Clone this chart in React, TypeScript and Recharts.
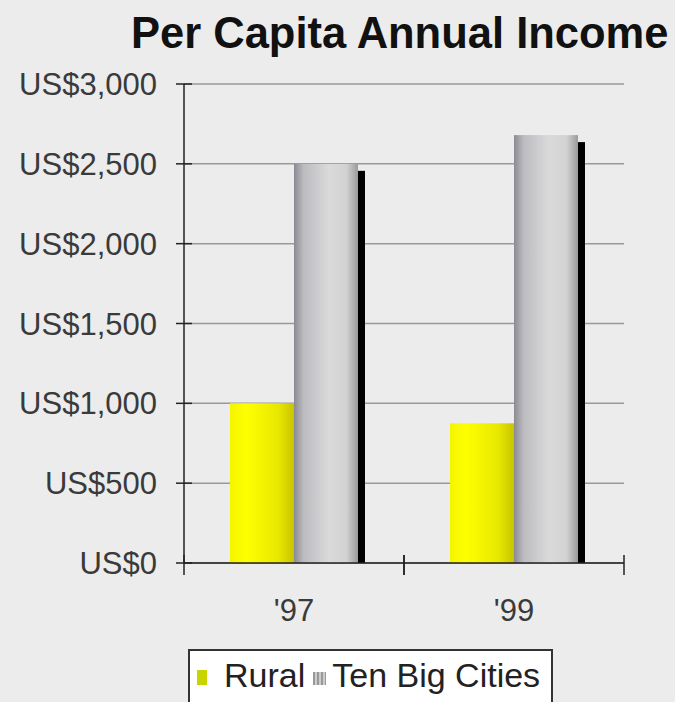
import React from "react";
import {
  BarChart,
  Bar,
  XAxis,
  YAxis,
  CartesianGrid,
  Legend,
} from "recharts";

const years = ["'97", "'99"];
const rural = [1000, 875];
const tenBigCities = [2500, 2680];
const yTicks = [0, 500, 1000, 1500, 2000, 2500, 3000];

const chartData = years.map((year, i) => ({
  year,
  rural: rural[i],
  cities: tenBigCities[i],
}));

const BG = "#ececec";
const FONT = "'Liberation Sans', Arial, sans-serif";
const TEXT = "#3a3a3a";
const HALF_BAND = 110;

const formatUsd = (v: number) => `US$${v.toLocaleString("en-US")}`;

function YTick(props: any) {
  const { x, y, payload } = props;
  const axisX = x + 27;
  return (
    <g>
      <line x1={axisX - 8} x2={axisX + 8} y1={y} y2={y} stroke="#222" strokeWidth={1.5} />
      <text
        x={x}
        y={y}
        dy="0.36em"
        textAnchor="end"
        fontSize={31}
        fontFamily={FONT}
        fill={TEXT}
      >
        {formatUsd(payload.value)}
      </text>
    </g>
  );
}

function XTick(props: any) {
  const { x, y, payload } = props;
  return (
    <g>
      <line x1={x - HALF_BAND} x2={x - HALF_BAND} y1={y - 10} y2={y + 10} stroke="#222" strokeWidth={1.5} />
      <line x1={x + HALF_BAND} x2={x + HALF_BAND} y1={y - 10} y2={y + 10} stroke="#222" strokeWidth={1.5} />
      <text
        x={x}
        y={y + 56}
        textAnchor="middle"
        fontSize={31}
        fontFamily={FONT}
        fill={TEXT}
      >
        {payload.value}
      </text>
    </g>
  );
}

function CityBar(props: any) {
  const { x, y, width, height } = props;
  if (!height || height <= 0) return null;
  return (
    <g>
      <rect x={x + 7} y={y + 7} width={width} height={height - 7} fill="#000" />
      <rect x={x} y={y} width={width} height={height} fill="url(#grayCyl)" />
    </g>
  );
}

function LegendBox() {
  return (
    <div
      style={{
        boxSizing: "border-box",
        width: 365,
        height: 64,
        border: "2px solid #333",
        background: "#fff",
        display: "flex",
        alignItems: "flex-start",
        paddingTop: 5,
        paddingLeft: 7,
        fontFamily: FONT,
        fontSize: 34,
        color: "#222",
        whiteSpace: "nowrap",
      }}
    >
      <span style={{ display: "inline-block", width: 10, height: 15, background: "#c8d400", marginTop: 14, marginRight: 17 }} />
      <span>Rural</span>
      <span
        style={{
          display: "inline-block",
          width: 13,
          height: 13,
          marginTop: 16,
          marginLeft: 8,
          marginRight: 6,
          background: "repeating-linear-gradient(90deg, #999 0 2px, #ccc 2px 4px)",
        }}
      />
      <span>Ten Big Cities</span>
    </div>
  );
}

export default function App() {
  return (
    <div
      style={{
        position: "absolute",
        left: 0,
        top: 0,
        width: 675,
        height: 702,
        background: BG,
        overflow: "hidden",
      }}
    >
      <div
        style={{
          position: "absolute",
          left: 131,
          top: 11,
          fontFamily: FONT,
          fontWeight: "bold",
          fontSize: 43.5,
          lineHeight: "44px",
          color: "#111",
          whiteSpace: "nowrap",
        }}
      >
        Per Capita Annual Income
      </div>
      <BarChart
        width={675}
        height={702}
        data={chartData}
        margin={{ top: 84, right: 51, left: 0, bottom: 39 }}
        barSize={64}
        barGap={0}
      >
        <defs>
          <linearGradient id="yellowCyl" x1="0" y1="0" x2="1" y2="0">
            <stop offset="0%" stopColor="#f4f400" />
            <stop offset="25%" stopColor="#ffff00" />
            <stop offset="75%" stopColor="#e8e800" />
            <stop offset="100%" stopColor="#c8c400" />
          </linearGradient>
          <linearGradient id="grayCyl" x1="0" y1="0" x2="1" y2="0">
            <stop offset="0%" stopColor="#8a8a92" />
            <stop offset="15%" stopColor="#bcbcc0" />
            <stop offset="55%" stopColor="#dadada" />
            <stop offset="82%" stopColor="#d2d2d2" />
            <stop offset="100%" stopColor="#9a9a9a" />
          </linearGradient>
        </defs>
        <CartesianGrid vertical={false} stroke="#999" strokeWidth={1.5} />
        <XAxis
          dataKey="year"
          axisLine={{ stroke: "#222", strokeWidth: 1.5 }}
          tickLine={false}
          tick={<XTick />}
          tickSize={0}
          height={100}
        />
        <YAxis
          domain={[0, 3000]}
          ticks={yTicks}
          width={184}
          axisLine={{ stroke: "#222", strokeWidth: 1.5 }}
          tickLine={false}
          tickSize={0}
          tickMargin={27}
          tick={<YTick />}
        />
        <Legend
          layout="horizontal"
          verticalAlign="middle"
          align="center"
          wrapperStyle={{ left: 188, top: 649, width: 365 }}
          content={() => <LegendBox />}
        />
        <Bar dataKey="rural" name="Rural" fill="url(#yellowCyl)" isAnimationActive={false} />
        <Bar dataKey="cities" name="Ten Big Cities" shape={<CityBar />} isAnimationActive={false} />
      </BarChart>
    </div>
  );
}
